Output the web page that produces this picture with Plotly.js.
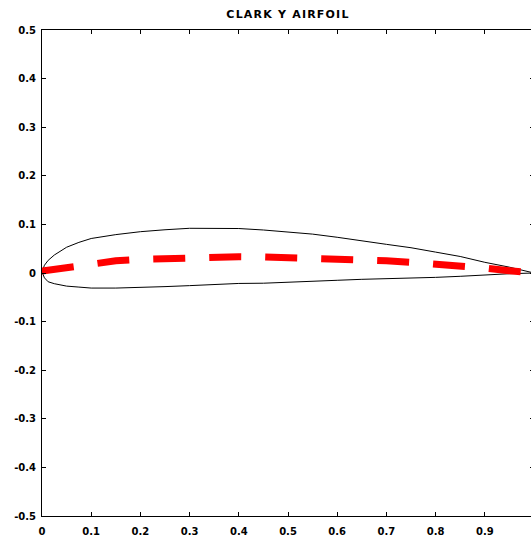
<!DOCTYPE html>
<html>
<head>
<meta charset="utf-8">
<script src="https://cdn.plot.ly/plotly-3.0.1.min.js"></script>
<style>
  html, body { margin: 0; padding: 0; overflow: hidden; background: #fff; }
  #chart { width: 534px; height: 537px; }
  .gtitle { letter-spacing: 1.2px; }
</style>
</head>
<body>
<div id="chart"></div>
<script>
// Clark Y airfoil
const upperX = [0, 0.005, 0.0125, 0.025, 0.05, 0.075, 0.1, 0.15, 0.2, 0.25, 0.3, 0.35, 0.4, 0.45, 0.5, 0.55, 0.6, 0.65, 0.7, 0.75, 0.8, 0.85, 0.9, 0.95, 1.0];
const upperY = [0.002, 0.016, 0.026, 0.037, 0.053, 0.063, 0.071, 0.079, 0.085, 0.089, 0.092, 0.0925, 0.0915, 0.0885, 0.085, 0.080, 0.0735, 0.067, 0.059, 0.052, 0.043, 0.034, 0.022, 0.012, 0.0];
const lowerX = [0, 0.005, 0.0125, 0.025, 0.05, 0.075, 0.1, 0.15, 0.2, 0.25, 0.3, 0.35, 0.4, 0.45, 0.5, 0.55, 0.6, 0.65, 0.7, 0.75, 0.8, 0.85, 0.9, 0.95, 1.0];
const lowerY = [0.002, -0.010, -0.018, -0.022, -0.027, -0.029, -0.031, -0.031, -0.030, -0.028, -0.026, -0.023, -0.0215, -0.021, -0.0195, -0.018, -0.015, -0.013, -0.012, -0.011, -0.009, -0.0068, -0.0035, -0.0015, 0.0];
const camberX = [0, 0.05, 0.1, 0.15, 0.2, 0.25, 0.3, 0.35, 0.4, 0.45, 0.5, 0.55, 0.6, 0.65, 0.7, 0.75, 0.8, 0.85, 0.9, 0.95, 1.0];
const camberY = [0.004, 0.011, 0.019, 0.025, 0.028, 0.030, 0.032, 0.0335, 0.0335, 0.033, 0.032, 0.031, 0.029, 0.027, 0.025, 0.022, 0.019, 0.015, 0.010, 0.0045, 0.0];

const xTickVals = [0, 0.1, 0.2, 0.3, 0.4, 0.5, 0.6, 0.7, 0.8, 0.9, 1];
const xTickText = ["0", "0.1", "0.2", "0.3", "0.4", "0.5", "0.6", "0.7", "0.8", "0.9", "1"];
const yTickVals = [-0.5, -0.4, -0.3, -0.2, -0.1, 0, 0.1, 0.2, 0.3, 0.4, 0.5];
const yTickText = ["-0.5", "-0.4", "-0.3", "-0.2", "-0.1", "0", "0.1", "0.2", "0.3", "0.4", "0.5"];

const titleText = "CLARK Y AIRFOIL";

const outlineX = upperX.slice().reverse().concat(lowerX.slice(1));
const outlineY = upperY.slice().reverse().concat(lowerY.slice(1));

const traces = [
  {
    x: outlineX, y: outlineY, type: 'scatter', mode: 'lines',
    line: { color: '#000000', width: 1 }, hoverinfo: 'skip'
  },
  {
    x: camberX, y: camberY, type: 'scatter', mode: 'lines',
    line: { color: '#ff0000', width: 7, dash: '32px,24px' }, hoverinfo: 'skip'
  }
];

const tickFont = { family: 'DejaVu Sans', size: 10, color: '#000000', weight: 'bold' };
const axisCommon = {
  showline: true, linecolor: '#000000', linewidth: 1, mirror: 'ticks',
  ticks: 'inside', ticklen: 4, tickwidth: 1, tickcolor: '#000000',
  showgrid: false, zeroline: false, tickfont: tickFont, tickmode: 'array'
};

const layout = {
  width: 534, height: 537,
  margin: { l: 42, r: 0, t: 30, b: 21, pad: 0 },
  paper_bgcolor: '#ffffff', plot_bgcolor: '#ffffff',
  showlegend: false,
  title: {
    text: titleText, x: 0.5, xref: 'paper', y: 1 - 14 / 537, yref: 'container', yanchor: 'middle',
    font: { family: 'DejaVu Sans', size: 11, color: '#000000', weight: 'bold' }
  },
  xaxis: Object.assign({}, axisCommon, {
    range: [0, 1], tickvals: xTickVals, ticktext: xTickText, ticklabelstandoff: 6
  }),
  yaxis: Object.assign({}, axisCommon, {
    range: [-0.5, 0.5], tickvals: yTickVals, ticktext: yTickText, ticklabelstandoff: 3
  })
};

Plotly.newPlot('chart', traces, layout, { staticPlot: true, displayModeBar: false });
</script>
</body>
</html>
